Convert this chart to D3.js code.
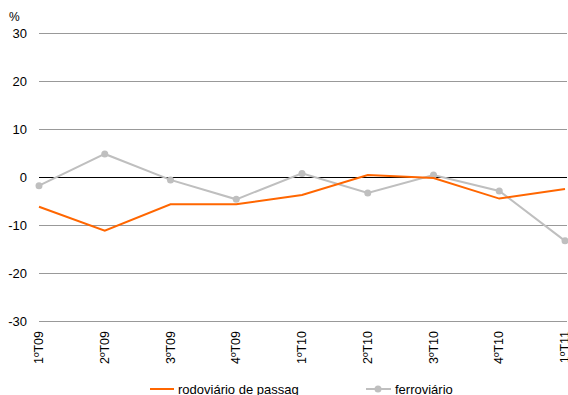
<!DOCTYPE html>
<html><head><meta charset="utf-8">
<script src="https://cdn.jsdelivr.net/npm/d3@7"></script>
<style>body{margin:0;background:#fff}svg{display:block;font-family:"Liberation Sans",Arial,sans-serif}</style>
</head><body><svg id="c" width="568" height="395"></svg>
<script>
const categories = ["1ºT09","2ºT09","3ºT09","4ºT09","1ºT10","2ºT10","3ºT10","4ºT10","1ºT11"];
const rodoviario = [-6.2,-11.2,-5.7,-5.7,-3.75,0.4,-0.2,-4.5,-2.5];
const ferroviario = [-1.8,4.8,-0.6,-4.65,0.75,-3.35,0.4,-2.9,-13.3];
const yTicks = [-30,-20,-10,0,10,20,30];
const seriesNames = ["rodoviário de passag","ferroviário"];

const svg = d3.select("#c");
const x = d3.scalePoint().domain(categories).range([39,565]);
const y = d3.scaleLinear().domain([-30,30]).range([321,33]);

// gridlines
svg.append("g").selectAll("line").data(yTicks).join("line")
  .attr("x1",39).attr("x2",567)
  .attr("y1",d=>y(d)+0.5).attr("y2",d=>y(d)+0.5)
  .attr("stroke",d=>d===0?"#000":"#999").attr("stroke-width",1);

// y labels
svg.append("g").selectAll("text").data(yTicks).join("text")
  .attr("x",27).attr("y",d=>y(d)+5).attr("text-anchor","end")
  .attr("font-size",13).attr("fill","#000").text(d=>d);
svg.append("text").attr("x",9).attr("y",21).attr("font-size",12).text("%");

// x labels
svg.append("g").selectAll("text").data(categories).join("text")
  .attr("transform",d=>`translate(${x(d)+4},331) rotate(-90)`)
  .attr("text-anchor","end").attr("font-size",12.5).text(d=>d);

const line = d3.line().x((d,i)=>x(categories[i])).y(d=>y(d));
svg.append("path").datum(ferroviario).attr("d",line).attr("fill","none")
  .attr("stroke","#BFBFBF").attr("stroke-width",2);
svg.append("g").selectAll("circle").data(ferroviario).join("circle")
  .attr("cx",(d,i)=>x(categories[i])).attr("cy",d=>y(d)).attr("r",3.5).attr("fill","#BFBFBF");
svg.append("path").datum(rodoviario).attr("d",line).attr("fill","none")
  .attr("stroke","#FF6600").attr("stroke-width",2);

// legend
const lg = svg.append("g");
lg.append("line").attr("x1",150).attr("x2",174).attr("y1",389).attr("y2",389).attr("stroke","#FF6600").attr("stroke-width",2);
lg.append("text").attr("x",178).attr("y",394).attr("font-size",13).text(seriesNames[0]);
lg.append("line").attr("x1",366).attr("x2",391).attr("y1",389).attr("y2",389).attr("stroke","#BFBFBF").attr("stroke-width",2);
lg.append("circle").attr("cx",378).attr("cy",389).attr("r",3.5).attr("fill","#BFBFBF");
lg.append("text").attr("x",395).attr("y",394).attr("font-size",13).text(seriesNames[1]);
</script></body></html>
